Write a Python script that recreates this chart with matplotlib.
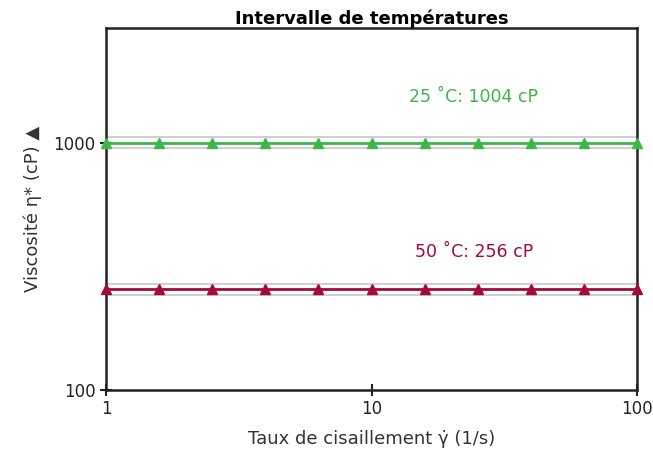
import matplotlib
matplotlib.use("Agg")
import matplotlib.pyplot as plt

# shear rate points (1/s) and viscosity (cP)
shear_rate = [1.0, 1.585, 2.512, 3.981, 6.310, 10.0, 15.85, 25.12, 39.81, 63.10, 100.0]
visc_25 = [1004] * len(shear_rate)
visc_50 = [256] * len(shear_rate)
labels = ["25 \u02daC: 1004 cP", "50 \u02daC: 256 cP"]
colors = ["#3db54a", "#a6093d"]
band = 0.05  # gray tolerance lines

plt.rcParams['font.family'] = ['DejaVu Sans']

fig = plt.figure(figsize=(6.53, 4.51), dpi=100)
ax = fig.add_axes([106/653, 61/451, 531/653, 362/451])

for vals, col, lab, ytxt in zip([visc_25, visc_50], colors, labels, [1535, 362]):
    v = vals[0]
    ax.axhline(v * (1 + band), color="#cfcfcf", lw=1.4, zorder=1)
    ax.axhline(v * (1 - band), color="#cfcfcf", lw=1.4, zorder=1)
    ax.plot(shear_rate, vals, color=col, lw=2, marker="^", ms=6.5, zorder=3, clip_on=False)
    ax.text(24.3, ytxt, lab, color=col, fontsize=12.5, ha="center", va="center")

ax.set_xscale("log")
ax.set_yscale("log")
ax.set_xlim(1, 100)
ax.set_ylim(100, 2920)
ax.set_xticks([1, 10, 100])
ax.set_xticklabels(["1", "10", "100"])
ax.set_yticks([100, 1000])
ax.set_yticklabels(["100", "1000"])
ax.minorticks_off()
ax.tick_params(direction="inout", length=8, width=1.5, labelsize=12, colors="#222222")
for s in ax.spines.values():
    s.set_linewidth(1.8)
    s.set_color("#222222")

ax.set_xlabel("Taux de cisaillement \u03b3\u0307 (1/s)", fontsize=13, color="#333333", labelpad=8)
ax.set_ylabel("Viscosit\u00e9 \u03b7* (cP) \u25b2", fontsize=13, color="#333333", labelpad=8)
ax.set_title("Intervalle de temp\u00e9ratures", fontsize=13, fontweight="bold", pad=2)

fig.savefig("out.png", dpi=100)
